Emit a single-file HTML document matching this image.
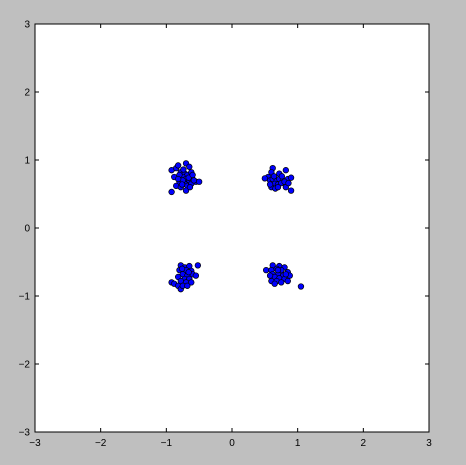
<!DOCTYPE html>
<html><head><meta charset="utf-8"><style>
html,body{margin:0;padding:0;background:#bfbfbf;width:466px;height:465px;overflow:hidden}
svg{display:block;font-family:"Liberation Sans","DejaVu Sans",sans-serif}
</style></head><body>
<svg id="chart" width="466" height="465"></svg>
<script>
const xTicks=[-3,-2,-1,0,1,2,3];
const yTicks=[-3,-2,-1,0,1,2,3];
const clusterTL=[[-0.92,0.85],[-0.85,0.88],[-0.82,0.92],[-0.7,0.95],[-0.65,0.9],[-0.78,0.82],[-0.72,0.8],[-0.68,0.78],[-0.62,0.82],[-0.75,0.75],[-0.7,0.72],[-0.65,0.7],[-0.6,0.72],[-0.55,0.68],[-0.8,0.68],[-0.85,0.62],[-0.78,0.6],[-0.72,0.65],[-0.68,0.62],[-0.62,0.65],[-0.58,0.7],[-0.75,0.7],[-0.7,0.55],[-0.92,0.53],[-0.88,0.75],[-0.8,0.78],[-0.66,0.74],[-0.74,0.86],[-0.6,0.78],[-0.5,0.68],[-0.82,0.72],[-0.76,0.64],[-0.64,0.6]];
const clusterTR=[[0.62,0.88],[0.6,0.82],[0.72,0.8],[0.82,0.85],[0.55,0.75],[0.58,0.7],[0.62,0.72],[0.68,0.7],[0.72,0.72],[0.78,0.7],[0.85,0.72],[0.9,0.74],[0.65,0.65],[0.7,0.64],[0.75,0.66],[0.8,0.68],[0.6,0.6],[0.66,0.58],[0.82,0.6],[0.9,0.55],[0.5,0.73],[0.64,0.76],[0.76,0.76],[0.7,0.6],[0.58,0.64],[0.86,0.66]];
const clusterBL=[[-0.78,-0.55],[-0.72,-0.58],[-0.65,-0.56],[-0.52,-0.55],[-0.8,-0.62],[-0.7,-0.62],[-0.62,-0.63],[-0.75,-0.68],[-0.68,-0.7],[-0.6,-0.68],[-0.55,-0.7],[-0.82,-0.72],[-0.72,-0.75],[-0.65,-0.75],[-0.78,-0.78],[-0.7,-0.8],[-0.62,-0.8],[-0.92,-0.8],[-0.88,-0.82],[-0.82,-0.85],[-0.78,-0.9],[-0.75,-0.85],[-0.68,-0.85],[-0.76,-0.6],[-0.66,-0.65]];
const clusterBR=[[0.62,-0.55],[0.72,-0.56],[0.8,-0.58],[0.52,-0.62],[0.6,-0.62],[0.68,-0.6],[0.75,-0.62],[0.85,-0.65],[0.62,-0.68],[0.7,-0.68],[0.78,-0.7],[0.88,-0.7],[0.65,-0.72],[0.72,-0.74],[0.8,-0.75],[0.6,-0.78],[0.68,-0.78],[0.75,-0.8],[0.65,-0.82],[0.85,-0.78],[1.05,-0.86],[0.58,-0.7],[0.82,-0.68],[0.7,-0.62]];
const L=35,R=429,T=24,B=432,xmin=-3,xmax=3,ymin=-3,ymax=3;
const sx=v=>L+(v-xmin)/(xmax-xmin)*(R-L);
const sy=v=>B-(v-ymin)/(ymax-ymin)*(B-T);
const NS="http://www.w3.org/2000/svg";
const svg=document.getElementById('chart');
function mk(t,a){const e=document.createElementNS(NS,t);for(const k in a)e.setAttribute(k,a[k]);return e;}
const bg=mk('rect',{x:L,y:T,width:R-L,height:B-T,fill:'#fff'});


svg.appendChild(bg);
const pts=mk('g',{});


svg.appendChild(pts);
[clusterTL,clusterTR,clusterBL,clusterBR].forEach(c=>c.forEach(p=>{
 const e=mk('circle',{cx:sx(p[0]),cy:sy(p[1]),r:2.8,fill:'#0000ff',stroke:'#000','stroke-width':0.7});
 
 
 pts.appendChild(e);
}));
const ax=mk('g',{});


svg.appendChild(ax);
xTicks.forEach(v=>{
 const x=sx(v);
 ax.appendChild(mk('line',{x1:x,y1:B,x2:x,y2:B-4,stroke:'#000','stroke-width':1}));
 ax.appendChild(mk('line',{x1:x,y1:T,x2:x,y2:T+4,stroke:'#000','stroke-width':1}));
 const t=mk('text',{x:x,y:B+14,'text-anchor':'middle','font-size':10,fill:'#000'});
 t.textContent=(v<0?'\u2212'+(-v):v);
 
 
 ax.appendChild(t);
});
yTicks.forEach(v=>{
 const y=sy(v);
 ax.appendChild(mk('line',{x1:L,y1:y,x2:L+4,y2:y,stroke:'#000','stroke-width':1}));
 ax.appendChild(mk('line',{x1:R,y1:y,x2:R-4,y2:y,stroke:'#000','stroke-width':1}));
 const t=mk('text',{x:L-5,y:y+3.5,'text-anchor':'end','font-size':10,fill:'#000'});
 t.textContent=(v<0?'\u2212'+(-v):v);
 
 
 ax.appendChild(t);
});
ax.appendChild(mk('rect',{x:L,y:T,width:R-L,height:B-T,fill:'none',stroke:'#000','stroke-width':1}));
</script>
</body></html>
